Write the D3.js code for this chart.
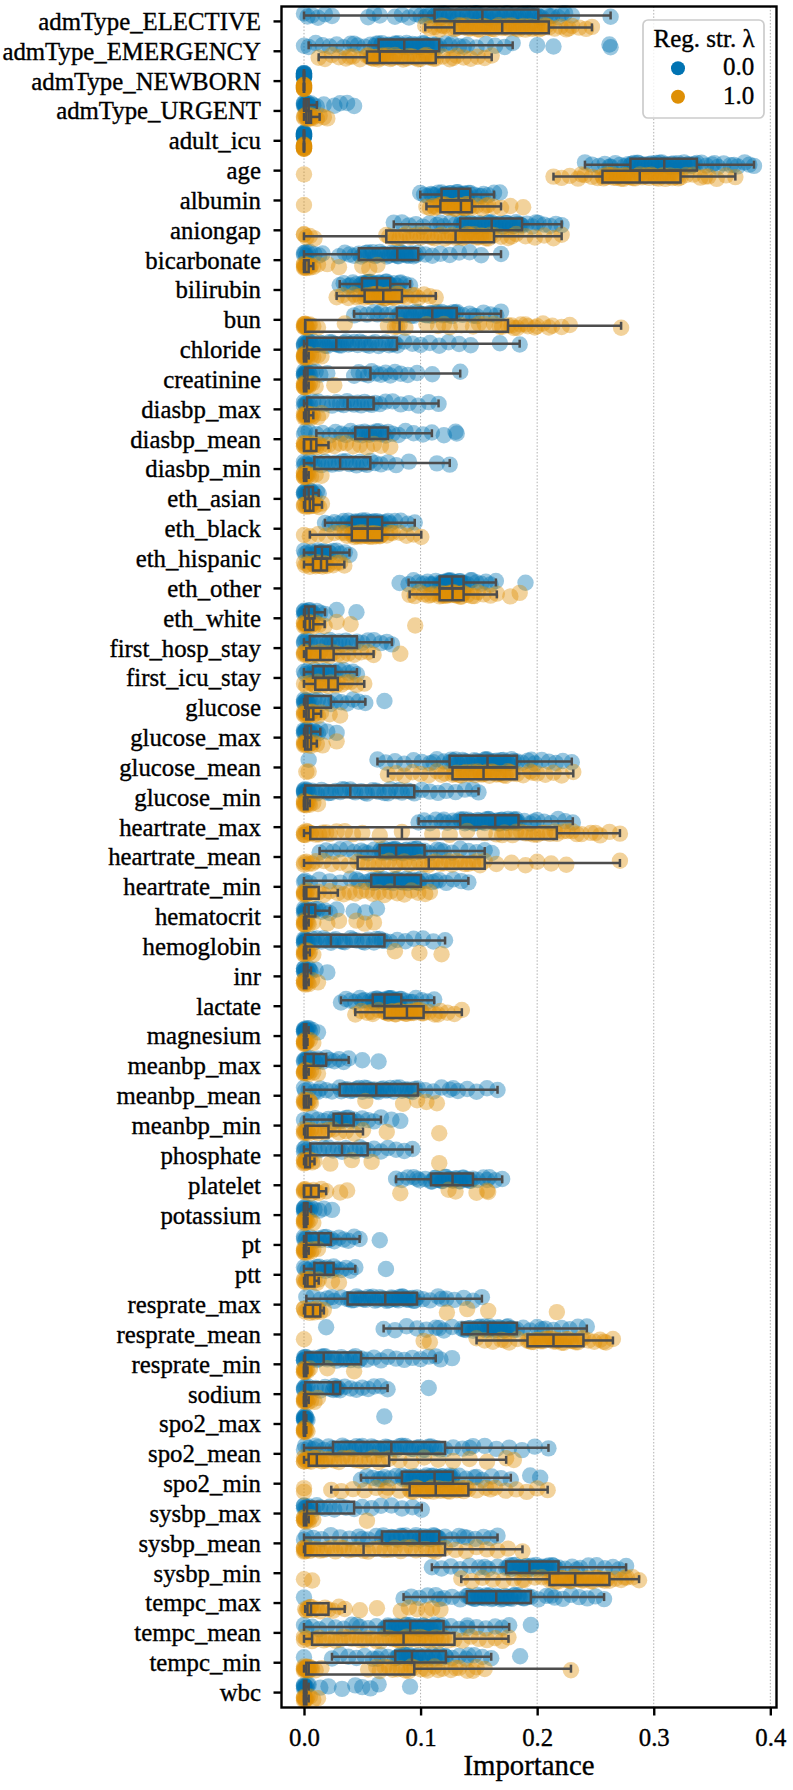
<!DOCTYPE html>
<html>
<head>
<meta charset="utf-8">
<script src="https://cdn.jsdelivr.net/npm/d3@7"></script>
<style>
  body { margin: 0; background: #fff; }
  svg { display: block; }
  text { font-family: "Liberation Serif", "Times New Roman", serif; }
</style>
</head>
<body>
<svg id="chart" width="793" height="1790"></svg>
<script>
const FEATURES = ["admType_ELECTIVE", "admType_EMERGENCY", "admType_NEWBORN", "admType_URGENT", "adult_icu", "age",
  "albumin", "aniongap", "bicarbonate", "bilirubin", "bun", "chloride", "creatinine", "diasbp_max", "diasbp_mean",
  "diasbp_min", "eth_asian", "eth_black", "eth_hispanic", "eth_other", "eth_white", "first_hosp_stay", "first_icu_stay",
  "glucose", "glucose_max", "glucose_mean", "glucose_min", "heartrate_max", "heartrate_mean", "heartrate_min",
  "hematocrit", "hemoglobin", "inr", "lactate", "magnesium", "meanbp_max", "meanbp_mean", "meanbp_min", "phosphate",
  "platelet", "potassium", "pt", "ptt", "resprate_max", "resprate_mean", "resprate_min", "sodium", "spo2_max",
  "spo2_mean", "spo2_min", "sysbp_max", "sysbp_mean", "sysbp_min", "tempc_max", "tempc_mean", "tempc_min", "wbc"]

const HUES = ["0.0", "1.0"]
const X_TICKS = [0, 0.1, 0.2, 0.3, 0.4]

// box summaries: [whisker low, q1, median, q3, whisker high]
const BOX_0 = [
  [0.0, 0.112, 0.153, 0.201, 0.263], [0.004, 0.064, 0.086, 0.116, 0.179], [0, 0, 0, 0, 0], [0, 0, 0.002, 0.004, 0.011],
  [0, 0, 0, 0, 0], [0.241, 0.28, 0.309, 0.337, 0.386], [0.0997, 0.118, 0.1326, 0.1426, 0.163], [0.077, 0.134, 0.161, 0.187, 0.221],
  [0, 0.047, 0.08, 0.098, 0.169], [0.0306, 0.0497, 0.0626, 0.074, 0.091], [0.043, 0.0797, 0.11, 0.131, 0.169], [0, 0.0026, 0.0277, 0.0797, 0.185],
  [0, 0.001, 0.003, 0.057, 0.134], [0, 0.0026, 0.0374, 0.0597, 0.1154], [0.0106, 0.044, 0.056, 0.072, 0.1097], [0, 0.0089, 0.031, 0.0569, 0.125],
  [0, 0.001, 0.004, 0.0077, 0.0126], [0.018, 0.041, 0.0546, 0.067, 0.095], [0, 0.0097, 0.0154, 0.0226, 0.039], [0.0897, 0.1163, 0.127, 0.1369, 0.1646],
  [0, 0.001, 0.004, 0.009, 0.018], [0, 0.005, 0.024, 0.0454, 0.0754], [0, 0.0077, 0.0169, 0.0269, 0.0454], [0, 0.001, 0.003, 0.0231, 0.0526],
  [0, 0.001, 0.003, 0.006, 0.014], [0.063, 0.1249, 0.1574, 0.1826, 0.2297], [0, 0.001, 0.0397, 0.0946, 0.1497], [0.0983, 0.134, 0.164, 0.184, 0.2306],
  [0.0134, 0.0649, 0.079, 0.1034, 0.155], [0, 0.0577, 0.0777, 0.1003, 0.141], [0, 0.001, 0.004, 0.0097, 0.022], [0, 0.001, 0.0231, 0.069, 0.121],
  [0, 0, 0.001, 0.003, 0.006], [0.0317, 0.059, 0.069, 0.0834, 0.1117], [0, 0, 0.001, 0.002, 0.004], [0, 0.001, 0.0083, 0.019, 0.0383],
  [0, 0.0306, 0.062, 0.0977, 0.166], [0, 0.0254, 0.0326, 0.0426, 0.066], [0, 0.0054, 0.0326, 0.0546, 0.093], [0.079, 0.1089, 0.1274, 0.1449, 0.17],
  [0, 0, 0.001, 0.003, 0.006], [0, 0.002, 0.0126, 0.0231, 0.0477], [0, 0.0089, 0.018, 0.0254, 0.044], [0.002, 0.0374, 0.0697, 0.0969, 0.1526],
  [0.0683, 0.1354, 0.1577, 0.1826, 0.2426], [0, 0.001, 0.0169, 0.0489, 0.113], [0, 0.001, 0.025, 0.031, 0.0717], [0, 0, 0, 0.001, 0.002],
  [0, 0.0249, 0.0749, 0.121, 0.2097], [0.0489, 0.084, 0.112, 0.1277, 0.1774], [0, 0.0026, 0.011, 0.043, 0.101], [0, 0.0669, 0.0991, 0.116, 0.166],
  [0.1097, 0.1734, 0.1934, 0.2183, 0.2763], [0.0854, 0.1397, 0.1649, 0.1946, 0.2574], [0, 0.069, 0.0911, 0.1197, 0.176], [0.024, 0.0783, 0.0926, 0.1217, 0.1606],
  [0, 0, 0.001, 0.002, 0.004]
]

const BOX_1 = [
  [0.104, 0.129, 0.17, 0.21, 0.247], [0.0126, 0.054, 0.065, 0.113, 0.161], [0, 0, 0, 0, 0], [0, 0.002, 0.004, 0.006, 0.0134],
  [0, 0, 0, 0, 0], [0.214, 0.256, 0.288, 0.323, 0.37], [0.105, 0.117, 0.1346, 0.144, 0.169], [0, 0.0706, 0.13, 0.163, 0.221],
  [0, 0, 0.001, 0.004, 0.008], [0.028, 0.052, 0.068, 0.084, 0.113], [0.001, 0.001, 0.082, 0.175, 0.272], [0, 0, 0.001, 0.002, 0.004],
  [0, 0, 0.001, 0.002, 0.004], [0, 0.001, 0.002, 0.004, 0.008], [0, 0, 0.006, 0.0106, 0.021], [0, 0, 0.001, 0.002, 0.004],
  [0, 0.001, 0.005, 0.008, 0.0154], [0.005, 0.041, 0.0546, 0.067, 0.1006], [0, 0.0077, 0.0146, 0.0197, 0.0346], [0.0906, 0.1163, 0.1274, 0.1369, 0.1654],
  [0, 0.001, 0.005, 0.008, 0.0177], [0, 0.002, 0.014, 0.0254, 0.0597], [0, 0.0097, 0.021, 0.029, 0.0517], [0, 0.002, 0.004, 0.008, 0.0146],
  [0, 0.001, 0.003, 0.006, 0.011], [0.072, 0.1274, 0.154, 0.1826, 0.231], [0, 0, 0.001, 0.003, 0.005], [0, 0.0054, 0.084, 0.2169, 0.271],
  [0, 0.046, 0.107, 0.155, 0.271], [0, 0, 0.002, 0.0126, 0.029], [0, 0, 0.001, 0.002, 0.004], [0, 0, 0.001, 0.002, 0.005],
  [0, 0, 0.001, 0.002, 0.004], [0.044, 0.069, 0.0883, 0.1026, 0.1354], [0, 0, 0.001, 0.002, 0.003], [0, 0, 0.001, 0.002, 0.004],
  [0, 0, 0.002, 0.004, 0.006], [0, 0.001, 0.003, 0.021, 0.0506], [0, 0.001, 0.002, 0.005, 0.009], [0, 0, 0.006, 0.0126, 0.019],
  [0, 0, 0.001, 0.002, 0.003], [0, 0, 0.001, 0.002, 0.004], [0, 0.001, 0.003, 0.009, 0.0126], [0, 0.001, 0.0077, 0.014, 0.017],
  [0.148, 0.1917, 0.214, 0.2397, 0.265], [0, 0, 0.001, 0.002, 0.003], [0, 0, 0.001, 0.002, 0.004], [0, 0, 0, 0.001, 0.002],
  [0, 0.004, 0.011, 0.073, 0.1734], [0.0234, 0.0906, 0.113, 0.141, 0.209], [0, 0, 0.001, 0.002, 0.004], [0, 0.001, 0.0511, 0.121, 0.1874],
  [0.1349, 0.2106, 0.2326, 0.262, 0.2874], [0.001, 0.003, 0.006, 0.021, 0.0349], [0, 0.0069, 0.0854, 0.1291, 0.1754], [0, 0.002, 0.004, 0.0946, 0.229],
  [0, 0, 0.001, 0.002, 0.004]
]

// individual runs, reg. strength 0.0
const POINTS_0 = [
  [0, 0.003, 0.007, 0.012, 0.018, 0.024, 0.055, 0.06, 0.065, 0.078, 0.084, 0.09, 0.096, 0.1, 0.104, 0.108, 0.112, 0.116, 0.12, 0.124, 0.128, 0.132, 0.136, 0.14, 0.144, 0.148, 0.152, 0.156, 0.16, 0.164, 0.168, 0.172, 0.176, 0.18, 0.184, 0.188, 0.192, 0.196, 0.2, 0.204, 0.208, 0.213, 0.218, 0.224, 0.23, 0.263,
   0.113, 0.117, 0.121, 0.125, 0.13, 0.134, 0.139, 0.143, 0.147, 0.151, 0.154, 0.158, 0.162, 0.166, 0.17, 0.174, 0.178, 0.182, 0.186, 0.19, 0.194, 0.198, 0.202, 0.106, 0.211, 0.221],
  [0, 0.004, 0.01, 0.016, 0.022, 0.028, 0.034, 0.04, 0.046, 0.052, 0.057, 0.061, 0.064, 0.067, 0.07, 0.073, 0.076, 0.079, 0.082, 0.085, 0.088, 0.091, 0.094, 0.097, 0.1, 0.103, 0.106, 0.11, 0.113, 0.116, 0.121, 0.127, 0.133, 0.14, 0.148, 0.156, 0.164, 0.172, 0.179, 0.2, 0.214, 0.262, 0.263,
   0.062, 0.066, 0.069, 0.072, 0.075, 0.078, 0.081, 0.084, 0.087, 0.09, 0.093, 0.096, 0.099, 0.102, 0.105, 0.108, 0.111, 0.114, 0.043, 0.125, 0.137],
  [0, 0, 0, 0, 0, 0, 0, 0, 0, 0, 0, 0, 0, 0, 0, 0],
  [0, 0, 0, 0, 0.001, 0.001, 0.001, 0.002, 0.002, 0.002, 0.003, 0.003, 0.004, 0.004, 0.005, 0.006, 0.008, 0.011, 0.017, 0.026, 0.031, 0.037, 0.043],
  [0, 0, 0, 0, 0, 0, 0, 0, 0, 0, 0, 0, 0, 0, 0, 0],
  [0.241, 0.247, 0.253, 0.258, 0.263, 0.267, 0.271, 0.275, 0.278, 0.28, 0.283, 0.286, 0.289, 0.292, 0.295, 0.298, 0.301, 0.304, 0.307, 0.309, 0.312, 0.315, 0.318, 0.321, 0.324, 0.327, 0.33, 0.333, 0.337, 0.341, 0.345, 0.35, 0.355, 0.36, 0.366, 0.372, 0.378, 0.382, 0.386,
   0.281, 0.284, 0.287, 0.29, 0.293, 0.296, 0.299, 0.302, 0.305, 0.308, 0.311, 0.314, 0.317, 0.32, 0.323, 0.326, 0.329, 0.332, 0.335, 0.262, 0.352, 0.369],
  [0.0997, 0.103, 0.106, 0.109, 0.112, 0.115, 0.118, 0.12, 0.122, 0.124, 0.126, 0.128, 0.13, 0.132, 0.134, 0.136, 0.138, 0.14, 0.1426, 0.146, 0.15, 0.154, 0.158, 0.163, 0.168,
   0.119, 0.121, 0.123, 0.125, 0.127, 0.129, 0.131, 0.133, 0.135, 0.137, 0.139, 0.141, 0.11, 0.152],
  [0.077, 0.084, 0.09, 0.096, 0.102, 0.108, 0.114, 0.12, 0.126, 0.13, 0.134, 0.137, 0.14, 0.143, 0.146, 0.149, 0.152, 0.155, 0.158, 0.161, 0.164, 0.167, 0.17, 0.173, 0.176, 0.179, 0.182, 0.185, 0.187, 0.191, 0.196, 0.201, 0.206, 0.211, 0.216, 0.221,
   0.135, 0.138, 0.141, 0.144, 0.147, 0.15, 0.153, 0.156, 0.159, 0.162, 0.165, 0.168, 0.171, 0.174, 0.177, 0.18, 0.183, 0.186, 0.117, 0.199],
  [0, 0, 0.002, 0.005, 0.009, 0.013, 0.016, 0.03, 0.035, 0.039, 0.043, 0.047, 0.051, 0.055, 0.059, 0.063, 0.067, 0.071, 0.075, 0.078, 0.08, 0.082, 0.085, 0.088, 0.091, 0.094, 0.098, 0.104, 0.11, 0.117, 0.125, 0.133, 0.142, 0.152, 0.169,
   0.049, 0.053, 0.057, 0.061, 0.065, 0.069, 0.073, 0.077, 0.081, 0.084, 0.087, 0.09, 0.093, 0.096, 0.001, 0.003],
  [0.0306, 0.034, 0.038, 0.042, 0.045, 0.048, 0.05, 0.052, 0.054, 0.056, 0.058, 0.06, 0.062, 0.064, 0.066, 0.068, 0.07, 0.072, 0.074, 0.077, 0.08, 0.083, 0.087, 0.091,
   0.051, 0.053, 0.055, 0.057, 0.059, 0.061, 0.063, 0.065, 0.067, 0.069, 0.071, 0.073, 0.04, 0.082],
  [0.043, 0.048, 0.054, 0.06, 0.066, 0.071, 0.076, 0.08, 0.084, 0.088, 0.092, 0.096, 0.1, 0.104, 0.108, 0.11, 0.113, 0.116, 0.119, 0.122, 0.125, 0.128, 0.131, 0.136, 0.142, 0.148, 0.154, 0.16, 0.165, 0.169,
   0.082, 0.086, 0.09, 0.094, 0.098, 0.102, 0.106, 0.109, 0.112, 0.115, 0.118, 0.121, 0.124, 0.127, 0.13, 0.063, 0.145],
  [0, 0, 0, 0.001, 0.002, 0.003, 0.004, 0.006, 0.01, 0.014, 0.018, 0.022, 0.026, 0.03, 0.034, 0.038, 0.043, 0.048, 0.053, 0.058, 0.064, 0.07, 0.076, 0.08, 0.086, 0.093, 0.1, 0.108, 0.116, 0.124, 0.133, 0.143, 0.168, 0.185,
   0.005, 0.008, 0.012, 0.016, 0.02, 0.024, 0.028, 0.032, 0.036, 0.041, 0.046, 0.051, 0.056, 0.061, 0.067, 0.073, 0.078],
  [0, 0, 0, 0, 0.001, 0.001, 0.002, 0.002, 0.003, 0.004, 0.005, 0.007, 0.01, 0.014, 0.02, 0.043, 0.047, 0.051, 0.055, 0.058, 0.062, 0.066, 0.07, 0.074, 0.078, 0.083, 0.089, 0.097, 0.11, 0.134],
  [0, 0, 0.001, 0.002, 0.003, 0.005, 0.008, 0.012, 0.016, 0.02, 0.024, 0.028, 0.031, 0.034, 0.037, 0.04, 0.043, 0.046, 0.049, 0.052, 0.055, 0.058, 0.061, 0.065, 0.07, 0.076, 0.083, 0.09, 0.098, 0.107, 0.1154],
  [0, 0.001, 0.004, 0.0106, 0.016, 0.022, 0.027, 0.032, 0.036, 0.04, 0.044, 0.046, 0.048, 0.05, 0.052, 0.054, 0.056, 0.058, 0.06, 0.062, 0.064, 0.066, 0.068, 0.07, 0.072, 0.076, 0.081, 0.087, 0.094, 0.102, 0.1097, 0.12, 0.13, 0.131],
  [0, 0, 0.001, 0.003, 0.005, 0.007, 0.0089, 0.012, 0.015, 0.018, 0.021, 0.024, 0.027, 0.03, 0.033, 0.036, 0.039, 0.042, 0.045, 0.048, 0.051, 0.054, 0.057, 0.061, 0.066, 0.072, 0.079, 0.09, 0.114, 0.125],
  [0, 0, 0, 0.001, 0.001, 0.002, 0.003, 0.004, 0.004, 0.005, 0.006, 0.007, 0.0077, 0.009, 0.011, 0.0126],
  [0.018, 0.022, 0.026, 0.03, 0.034, 0.038, 0.041, 0.043, 0.045, 0.047, 0.049, 0.051, 0.053, 0.055, 0.057, 0.059, 0.061, 0.063, 0.065, 0.067, 0.07, 0.074, 0.078, 0.083, 0.089, 0.095,
   0.042, 0.044, 0.046, 0.048, 0.05, 0.052, 0.054, 0.056, 0.058, 0.06, 0.062, 0.064, 0.066, 0.036, 0.072],
  [0, 0.001, 0.003, 0.005, 0.007, 0.0097, 0.011, 0.012, 0.013, 0.014, 0.015, 0.016, 0.017, 0.018, 0.019, 0.021, 0.0226, 0.025, 0.028, 0.031, 0.035, 0.039],
  [0.082, 0.0897, 0.094, 0.098, 0.102, 0.106, 0.11, 0.113, 0.1163, 0.118, 0.12, 0.122, 0.124, 0.126, 0.128, 0.13, 0.132, 0.134, 0.1369, 0.14, 0.144, 0.148, 0.152, 0.156, 0.16, 0.1646, 0.19,
   0.117, 0.119, 0.121, 0.123, 0.125, 0.127, 0.129, 0.131, 0.133, 0.135, 0.108, 0.143],
  [0, 0, 0, 0.001, 0.001, 0.002, 0.003, 0.004, 0.005, 0.006, 0.007, 0.009, 0.011, 0.014, 0.018, 0.028, 0.045],
  [0, 0, 0.001, 0.003, 0.005, 0.008, 0.011, 0.014, 0.017, 0.02, 0.022, 0.024, 0.027, 0.03, 0.033, 0.036, 0.039, 0.042, 0.0454, 0.05, 0.055, 0.06, 0.066, 0.071, 0.0754],
  [0, 0.001, 0.003, 0.005, 0.0077, 0.009, 0.011, 0.013, 0.015, 0.0169, 0.019, 0.021, 0.023, 0.025, 0.0269, 0.03, 0.034, 0.038, 0.042, 0.0454],
  [0, 0, 0, 0.001, 0.001, 0.002, 0.003, 0.003, 0.004, 0.006, 0.009, 0.012, 0.016, 0.02, 0.0231, 0.027, 0.032, 0.037, 0.042, 0.047, 0.0526, 0.069],
  [0, 0, 0, 0.001, 0.001, 0.002, 0.003, 0.004, 0.005, 0.006, 0.008, 0.01, 0.012, 0.014, 0.02, 0.028],
  [0.004, 0.063, 0.07, 0.078, 0.086, 0.094, 0.101, 0.108, 0.114, 0.12, 0.1249, 0.128, 0.132, 0.136, 0.14, 0.144, 0.148, 0.152, 0.155, 0.1574, 0.16, 0.163, 0.166, 0.169, 0.172, 0.175, 0.178, 0.1826, 0.187, 0.192, 0.198, 0.204, 0.21, 0.216, 0.222, 0.2297,
   0.126, 0.13, 0.134, 0.138, 0.142, 0.146, 0.15, 0.153, 0.156, 0.159, 0.162, 0.165, 0.168, 0.171, 0.174, 0.177, 0.18, 0.111, 0.195],
  [0, 0, 0, 0.001, 0.002, 0.004, 0.007, 0.011, 0.015, 0.019, 0.023, 0.027, 0.031, 0.035, 0.0397, 0.044, 0.049, 0.054, 0.059, 0.064, 0.069, 0.074, 0.079, 0.084, 0.089, 0.0946, 0.101, 0.108, 0.115, 0.122, 0.13, 0.138, 0.145, 0.1497,
   0, 0.001, 0.003, 0.009, 0.021, 0.033, 0.042, 0.052, 0.062, 0.072, 0.082, 0.092],
  [0.0983, 0.103, 0.108, 0.113, 0.118, 0.123, 0.128, 0.131, 0.134, 0.137, 0.14, 0.143, 0.146, 0.149, 0.152, 0.155, 0.158, 0.161, 0.164, 0.166, 0.168, 0.17, 0.172, 0.174, 0.176, 0.178, 0.18, 0.182, 0.184, 0.189, 0.194, 0.2, 0.206, 0.212, 0.218, 0.224, 0.2306,
   0.135, 0.138, 0.141, 0.144, 0.147, 0.15, 0.153, 0.156, 0.159, 0.162, 0.165, 0.167, 0.169, 0.171, 0.173, 0.175, 0.177, 0.179, 0.181, 0.183, 0.12, 0.197],
  [0.0134, 0.019, 0.025, 0.031, 0.037, 0.043, 0.049, 0.055, 0.06, 0.0649, 0.067, 0.069, 0.071, 0.073, 0.075, 0.077, 0.079, 0.081, 0.084, 0.087, 0.09, 0.093, 0.096, 0.099, 0.1034, 0.108, 0.114, 0.12, 0.127, 0.134, 0.141, 0.148, 0.155, 0.161,
   0.066, 0.068, 0.07, 0.072, 0.074, 0.076, 0.078, 0.08, 0.082, 0.085, 0.088, 0.091, 0.094, 0.097, 0.1, 0.052, 0.117],
  [0, 0.001, 0.005, 0.013, 0.022, 0.031, 0.04, 0.047, 0.053, 0.0577, 0.06, 0.063, 0.066, 0.069, 0.072, 0.075, 0.0777, 0.08, 0.083, 0.086, 0.089, 0.092, 0.095, 0.098, 0.1003, 0.105, 0.11, 0.116, 0.122, 0.128, 0.135, 0.141,
   0.059, 0.062, 0.065, 0.068, 0.071, 0.074, 0.076, 0.079, 0.082, 0.085, 0.088, 0.091, 0.094, 0.097, 0.099, 0.045, 0.113],
  [0, 0, 0, 0.001, 0.001, 0.002, 0.003, 0.004, 0.005, 0.006, 0.008, 0.0097, 0.012, 0.015, 0.018, 0.022, 0.028, 0.0426, 0.0526, 0.0626],
  [0, 0, 0, 0.001, 0.002, 0.004, 0.007, 0.011, 0.015, 0.019, 0.0231, 0.027, 0.031, 0.035, 0.04, 0.045, 0.05, 0.055, 0.06, 0.065, 0.069, 0.074, 0.08, 0.087, 0.094, 0.102, 0.111, 0.121,
   0, 0.001, 0.003, 0.009, 0.017, 0.025, 0.033, 0.042, 0.052, 0.062, 0.067],
  [0, 0, 0, 0, 0.001, 0.001, 0.002, 0.002, 0.003, 0.004, 0.005, 0.006, 0.01, 0.02],
  [0.0317, 0.036, 0.04, 0.044, 0.048, 0.052, 0.056, 0.059, 0.061, 0.063, 0.065, 0.067, 0.069, 0.071, 0.073, 0.075, 0.077, 0.079, 0.081, 0.0834, 0.087, 0.091, 0.096, 0.101, 0.106, 0.1117,
   0.06, 0.062, 0.064, 0.066, 0.068, 0.07, 0.072, 0.074, 0.076, 0.078, 0.08, 0.082, 0.05, 0.093],
  [0, 0, 0, 0, 0.001, 0.001, 0.001, 0.002, 0.002, 0.003, 0.004, 0.005, 0.007, 0.012],
  [0, 0, 0.001, 0.002, 0.003, 0.005, 0.007, 0.0083, 0.01, 0.012, 0.014, 0.016, 0.019, 0.022, 0.026, 0.03, 0.034, 0.0383, 0.05, 0.064],
  [0, 0.001, 0.004, 0.009, 0.014, 0.019, 0.024, 0.0306, 0.035, 0.04, 0.045, 0.05, 0.054, 0.058, 0.062, 0.066, 0.07, 0.074, 0.079, 0.084, 0.089, 0.093, 0.0977, 0.104, 0.111, 0.118, 0.125, 0.132, 0.14, 0.148, 0.157, 0.166,
   0.032, 0.037, 0.042, 0.047, 0.052, 0.056, 0.06, 0.064, 0.068, 0.072, 0.077, 0.082, 0.087, 0.091, 0.095, 0.012, 0.128],
  [0, 0.003, 0.007, 0.012, 0.017, 0.021, 0.0254, 0.027, 0.029, 0.031, 0.0326, 0.034, 0.036, 0.038, 0.04, 0.0426, 0.046, 0.05, 0.055, 0.06, 0.066, 0.075, 0.0826],
  [0, 0, 0.001, 0.003, 0.0054, 0.009, 0.013, 0.017, 0.021, 0.025, 0.029, 0.0326, 0.036, 0.04, 0.044, 0.048, 0.051, 0.0546, 0.06, 0.066, 0.072, 0.079, 0.086, 0.093],
  [0.079, 0.084, 0.089, 0.094, 0.099, 0.104, 0.1089, 0.112, 0.115, 0.118, 0.121, 0.124, 0.1274, 0.13, 0.133, 0.136, 0.139, 0.142, 0.1449, 0.149, 0.154, 0.159, 0.164, 0.17,
   0.11, 0.113, 0.116, 0.119, 0.122, 0.125, 0.128, 0.131, 0.134, 0.137, 0.14, 0.143, 0.097, 0.157],
  [0, 0, 0, 0, 0.001, 0.001, 0.002, 0.003, 0.004, 0.005, 0.006, 0.009, 0.013, 0.017, 0.024],
  [0, 0, 0.001, 0.002, 0.004, 0.006, 0.008, 0.01, 0.0126, 0.015, 0.017, 0.019, 0.021, 0.0231, 0.026, 0.03, 0.034, 0.038, 0.043, 0.0477, 0.065],
  [0, 0.001, 0.003, 0.006, 0.0089, 0.011, 0.013, 0.015, 0.017, 0.018, 0.02, 0.022, 0.024, 0.0254, 0.028, 0.032, 0.036, 0.04, 0.044, 0.0703],
  [0.002, 0.008, 0.014, 0.02, 0.026, 0.032, 0.0374, 0.041, 0.045, 0.049, 0.053, 0.057, 0.061, 0.065, 0.0697, 0.073, 0.076, 0.079, 0.082, 0.085, 0.088, 0.091, 0.094, 0.0969, 0.102, 0.108, 0.115, 0.122, 0.129, 0.137, 0.145, 0.1526,
   0.039, 0.043, 0.047, 0.051, 0.055, 0.059, 0.063, 0.067, 0.071, 0.075, 0.078, 0.081, 0.084, 0.087, 0.09, 0.093, 0.095, 0.024, 0.118],
  [0.019, 0.0683, 0.078, 0.088, 0.097, 0.105, 0.113, 0.12, 0.127, 0.1354, 0.139, 0.143, 0.147, 0.151, 0.155, 0.1577, 0.16, 0.163, 0.166, 0.169, 0.172, 0.175, 0.178, 0.1826, 0.188, 0.194, 0.2, 0.207, 0.214, 0.221, 0.228, 0.235, 0.2426,
   0.137, 0.141, 0.145, 0.149, 0.153, 0.156, 0.159, 0.162, 0.165, 0.168, 0.171, 0.174, 0.177, 0.18, 0.116, 0.204],
  [0, 0, 0, 0.001, 0.003, 0.006, 0.009, 0.012, 0.015, 0.0169, 0.02, 0.024, 0.028, 0.032, 0.036, 0.04, 0.044, 0.0489, 0.054, 0.06, 0.066, 0.072, 0.079, 0.086, 0.093, 0.1, 0.107, 0.113, 0.117, 0.127,
   0, 0.002, 0.005, 0.011, 0.018, 0.026, 0.034, 0.042, 0.047],
  [0, 0, 0, 0.001, 0.003, 0.006, 0.01, 0.014, 0.018, 0.022, 0.025, 0.026, 0.027, 0.028, 0.029, 0.031, 0.035, 0.04, 0.045, 0.05, 0.055, 0.06, 0.066, 0.0717, 0.107],
  [0, 0, 0, 0, 0, 0.001, 0.001, 0.001, 0.002, 0.002, 0.003, 0.0689],
  [0, 0.001, 0.004, 0.008, 0.012, 0.017, 0.021, 0.0249, 0.03, 0.035, 0.04, 0.045, 0.05, 0.055, 0.06, 0.065, 0.07, 0.0749, 0.079, 0.084, 0.089, 0.094, 0.099, 0.104, 0.109, 0.114, 0.121, 0.128, 0.136, 0.145, 0.155, 0.165, 0.176, 0.187, 0.198, 0.2097,
   0.027, 0.033, 0.038, 0.043, 0.048, 0.053, 0.058, 0.063, 0.068, 0.072, 0.077, 0.082, 0.087, 0.092, 0.097, 0.102, 0.107, 0.112, 0.117, 0.01, 0.142],
  [0.0489, 0.054, 0.059, 0.064, 0.069, 0.074, 0.079, 0.084, 0.087, 0.09, 0.093, 0.096, 0.099, 0.102, 0.105, 0.108, 0.112, 0.114, 0.116, 0.118, 0.12, 0.122, 0.124, 0.126, 0.1277, 0.133, 0.139, 0.146, 0.153, 0.161, 0.169, 0.1774, 0.194, 0.2026,
   0.085, 0.088, 0.091, 0.094, 0.097, 0.1, 0.103, 0.106, 0.109, 0.111, 0.113, 0.115, 0.117, 0.119, 0.121, 0.123, 0.125, 0.127, 0.066, 0.148],
  [0, 0, 0, 0.001, 0.002, 0.0026, 0.004, 0.006, 0.008, 0.011, 0.014, 0.018, 0.022, 0.026, 0.031, 0.036, 0.043, 0.05, 0.058, 0.066, 0.075, 0.084, 0.093, 0.101],
  [0, 0.002, 0.008, 0.015, 0.023, 0.031, 0.039, 0.047, 0.055, 0.062, 0.0669, 0.071, 0.075, 0.079, 0.083, 0.087, 0.091, 0.095, 0.0991, 0.102, 0.105, 0.108, 0.111, 0.114, 0.116, 0.121, 0.127, 0.133, 0.14, 0.147, 0.154, 0.16, 0.166,
   0.068, 0.072, 0.076, 0.08, 0.084, 0.088, 0.092, 0.096, 0.1, 0.103, 0.106, 0.109, 0.112, 0.115, 0.05, 0.137],
  [0.1097, 0.118, 0.126, 0.134, 0.142, 0.15, 0.158, 0.166, 0.1734, 0.176, 0.179, 0.182, 0.185, 0.188, 0.191, 0.1934, 0.196, 0.199, 0.202, 0.205, 0.208, 0.211, 0.214, 0.2183, 0.224, 0.23, 0.237, 0.244, 0.251, 0.258, 0.265, 0.27, 0.2763,
   0.175, 0.178, 0.181, 0.184, 0.187, 0.19, 0.192, 0.195, 0.198, 0.201, 0.204, 0.207, 0.21, 0.213, 0.216, 0.155, 0.234],
  [0, 0.0854, 0.092, 0.099, 0.106, 0.113, 0.12, 0.127, 0.134, 0.1397, 0.143, 0.146, 0.149, 0.152, 0.155, 0.158, 0.161, 0.1649, 0.168, 0.171, 0.174, 0.177, 0.18, 0.184, 0.188, 0.1946, 0.201, 0.208, 0.215, 0.222, 0.229, 0.236, 0.243, 0.25, 0.2574,
   0.141, 0.144, 0.147, 0.15, 0.153, 0.156, 0.159, 0.162, 0.166, 0.169, 0.172, 0.175, 0.178, 0.181, 0.185, 0.189, 0.192, 0.116, 0.212],
  [0, 0.002, 0.007, 0.013, 0.02, 0.027, 0.034, 0.041, 0.048, 0.055, 0.062, 0.069, 0.072, 0.075, 0.078, 0.081, 0.084, 0.087, 0.0911, 0.094, 0.097, 0.1, 0.103, 0.106, 0.109, 0.112, 0.116, 0.1197, 0.126, 0.133, 0.14, 0.148, 0.156, 0.164, 0.17, 0.176, 0.1946,
   0.07, 0.073, 0.076, 0.079, 0.082, 0.085, 0.088, 0.09, 0.093, 0.096, 0.099, 0.102, 0.105, 0.108, 0.111, 0.114, 0.118, 0.045, 0.14],
  [0, 0.024, 0.031, 0.038, 0.045, 0.052, 0.059, 0.066, 0.072, 0.0783, 0.081, 0.084, 0.087, 0.09, 0.0926, 0.096, 0.1, 0.104, 0.108, 0.112, 0.116, 0.1217, 0.127, 0.133, 0.139, 0.146, 0.153, 0.1606, 0.1854,
   0.08, 0.083, 0.086, 0.089, 0.092, 0.095, 0.098, 0.102, 0.106, 0.11, 0.114, 0.118, 0.121, 0.063, 0.141],
  [0, 0, 0, 0, 0.001, 0.001, 0.002, 0.003, 0.004, 0.014, 0.021, 0.0326, 0.044, 0.05, 0.057, 0.064, 0.091]
]

// individual runs, reg. strength 1.0
const POINTS_1 = [
  [0.104, 0.108, 0.112, 0.116, 0.12, 0.124, 0.129, 0.133, 0.137, 0.141, 0.145, 0.149, 0.153, 0.157, 0.161, 0.165, 0.17, 0.174, 0.178, 0.182, 0.186, 0.19, 0.194, 0.198, 0.202, 0.206, 0.21, 0.215, 0.22, 0.225, 0.23, 0.236, 0.242, 0.247,
   0.131, 0.135, 0.139, 0.143, 0.147, 0.151, 0.155, 0.159, 0.163, 0.167, 0.172, 0.176, 0.18, 0.184, 0.188, 0.192, 0.196, 0.2, 0.204, 0.208, 0.118, 0.227],
  [0.0126, 0.018, 0.024, 0.03, 0.036, 0.042, 0.048, 0.054, 0.057, 0.06, 0.063, 0.065, 0.068, 0.072, 0.076, 0.08, 0.085, 0.09, 0.095, 0.1, 0.105, 0.109, 0.113, 0.119, 0.125, 0.131, 0.137, 0.143, 0.149, 0.155, 0.161,
   0.055, 0.058, 0.061, 0.064, 0.067, 0.07, 0.074, 0.078, 0.083, 0.088, 0.093, 0.098, 0.103, 0.107, 0.111, 0.039, 0.128],
  [0, 0, 0, 0, 0, 0, 0, 0, 0, 0, 0, 0, 0, 0, 0, 0],
  [0, 0, 0.001, 0.002, 0.002, 0.003, 0.003, 0.004, 0.004, 0.005, 0.005, 0.006, 0.007, 0.009, 0.011, 0.0134, 0.017, 0.02],
  [0, 0, 0, 0, 0, 0, 0, 0, 0, 0, 0, 0, 0, 0, 0, 0],
  [0, 0.214, 0.221, 0.228, 0.235, 0.241, 0.247, 0.252, 0.256, 0.259, 0.262, 0.265, 0.268, 0.271, 0.274, 0.277, 0.28, 0.284, 0.288, 0.292, 0.296, 0.3, 0.304, 0.308, 0.312, 0.316, 0.32, 0.323, 0.328, 0.334, 0.34, 0.347, 0.354, 0.362, 0.37,
   0.257, 0.26, 0.263, 0.266, 0.269, 0.272, 0.275, 0.278, 0.282, 0.286, 0.29, 0.294, 0.298, 0.302, 0.306, 0.31, 0.314, 0.318, 0.321, 0.238, 0.344],
  [0, 0.105, 0.108, 0.111, 0.114, 0.117, 0.12, 0.123, 0.126, 0.129, 0.132, 0.1346, 0.137, 0.139, 0.141, 0.144, 0.148, 0.153, 0.158, 0.163, 0.169, 0.177, 0.188,
   0.118, 0.121, 0.124, 0.127, 0.13, 0.133, 0.136, 0.138, 0.14, 0.142, 0.112, 0.156],
  [0, 0, 0.002, 0.005, 0.009, 0.0706, 0.076, 0.082, 0.088, 0.094, 0.1, 0.106, 0.112, 0.118, 0.124, 0.13, 0.134, 0.138, 0.142, 0.146, 0.15, 0.154, 0.158, 0.163, 0.169, 0.175, 0.182, 0.19, 0.198, 0.206, 0.214, 0.221,
   0.073, 0.079, 0.085, 0.091, 0.097, 0.103, 0.109, 0.115, 0.121, 0.127, 0.132, 0.136, 0.14, 0.144, 0.148, 0.152, 0.156, 0.16, 0.178],
  [0, 0, 0, 0, 0.001, 0.001, 0.002, 0.002, 0.003, 0.004, 0.005, 0.006, 0.008, 0.012, 0.02, 0.03, 0.05, 0.056, 0.063],
  [0.028, 0.033, 0.038, 0.043, 0.048, 0.052, 0.055, 0.058, 0.061, 0.064, 0.066, 0.068, 0.07, 0.072, 0.075, 0.078, 0.081, 0.084, 0.088, 0.093, 0.098, 0.103, 0.108, 0.113,
   0.053, 0.056, 0.059, 0.062, 0.065, 0.067, 0.069, 0.071, 0.073, 0.076, 0.079, 0.082, 0.045, 0.095],
  [0, 0, 0, 0.001, 0.001, 0.001, 0.002, 0.003, 0.005, 0.008, 0.012, 0.035, 0.072, 0.078, 0.082, 0.087, 0.105, 0.115, 0.125, 0.135, 0.145, 0.155, 0.163, 0.17, 0.175, 0.18, 0.186, 0.192, 0.198, 0.205, 0.213, 0.221, 0.228, 0.272,
   0, 0.001, 0.002, 0.004, 0.08, 0.12, 0.15, 0.168, 0.178, 0.183, 0.19, 0.2, 0.21],
  [0, 0, 0, 0, 0, 0.001, 0.001, 0.001, 0.002, 0.002, 0.003, 0.004, 0.006, 0.008, 0.012, 0.015],
  [0, 0, 0, 0, 0, 0.001, 0.001, 0.002, 0.002, 0.003, 0.004, 0.005, 0.007, 0.01, 0.026],
  [0, 0, 0, 0.001, 0.001, 0.002, 0.002, 0.003, 0.004, 0.005, 0.006, 0.007, 0.008, 0.012, 0.015],
  [0, 0, 0, 0, 0.001, 0.002, 0.003, 0.004, 0.005, 0.006, 0.007, 0.008, 0.009, 0.0106, 0.012, 0.014, 0.017, 0.021, 0.026, 0.031, 0.036, 0.042, 0.048, 0.054, 0.06, 0.066, 0.074],
  [0, 0, 0, 0, 0, 0.001, 0.001, 0.002, 0.002, 0.003, 0.004, 0.006, 0.01, 0.015],
  [0, 0, 0.001, 0.002, 0.003, 0.004, 0.005, 0.005, 0.006, 0.007, 0.008, 0.009, 0.011, 0.013, 0.0154],
  [0, 0.005, 0.012, 0.019, 0.026, 0.032, 0.037, 0.041, 0.043, 0.045, 0.047, 0.049, 0.051, 0.053, 0.055, 0.057, 0.059, 0.061, 0.063, 0.065, 0.067, 0.071, 0.076, 0.082, 0.088, 0.094, 0.1006,
   0.042, 0.044, 0.046, 0.048, 0.05, 0.052, 0.054, 0.056, 0.058, 0.06, 0.062, 0.064, 0.066, 0.035, 0.074],
  [0, 0.001, 0.003, 0.005, 0.0077, 0.009, 0.01, 0.011, 0.012, 0.013, 0.0146, 0.016, 0.017, 0.018, 0.0197, 0.022, 0.025, 0.028, 0.031, 0.0346],
  [0.0906, 0.095, 0.099, 0.103, 0.107, 0.111, 0.1163, 0.118, 0.12, 0.122, 0.124, 0.126, 0.1274, 0.129, 0.131, 0.133, 0.135, 0.1369, 0.14, 0.144, 0.149, 0.154, 0.16, 0.1654, 0.177, 0.185,
   0.117, 0.119, 0.121, 0.123, 0.125, 0.128, 0.13, 0.132, 0.134, 0.136, 0.109, 0.146],
  [0, 0, 0, 0.001, 0.001, 0.002, 0.003, 0.004, 0.005, 0.006, 0.007, 0.008, 0.01, 0.013, 0.0177, 0.028, 0.04, 0.0954],
  [0, 0, 0, 0.001, 0.002, 0.004, 0.006, 0.008, 0.01, 0.012, 0.014, 0.016, 0.018, 0.02, 0.022, 0.0254, 0.029, 0.033, 0.038, 0.043, 0.049, 0.055, 0.0597, 0.0826],
  [0, 0.002, 0.005, 0.008, 0.0097, 0.012, 0.014, 0.016, 0.018, 0.021, 0.023, 0.025, 0.027, 0.029, 0.032, 0.036, 0.04, 0.045, 0.0517],
  [0, 0, 0, 0.001, 0.002, 0.002, 0.003, 0.004, 0.004, 0.005, 0.006, 0.007, 0.008, 0.01, 0.012, 0.0146, 0.022, 0.031],
  [0, 0, 0, 0.001, 0.001, 0.002, 0.003, 0.004, 0.005, 0.006, 0.008, 0.011, 0.016, 0.028],
  [0.002, 0.004, 0.072, 0.079, 0.086, 0.093, 0.1, 0.107, 0.114, 0.121, 0.1274, 0.131, 0.135, 0.139, 0.143, 0.147, 0.151, 0.154, 0.157, 0.161, 0.165, 0.169, 0.173, 0.177, 0.1826, 0.188, 0.194, 0.2, 0.207, 0.214, 0.221, 0.231,
   0.129, 0.133, 0.137, 0.141, 0.145, 0.149, 0.152, 0.155, 0.159, 0.163, 0.167, 0.171, 0.175, 0.179, 0.118, 0.196],
  [0, 0, 0, 0, 0.001, 0.001, 0.002, 0.002, 0.003, 0.004, 0.005, 0.008, 0.012],
  [0, 0, 0.001, 0.003, 0.0054, 0.01, 0.016, 0.022, 0.028, 0.035, 0.042, 0.05, 0.065, 0.084, 0.11, 0.125, 0.14, 0.155, 0.165, 0.172, 0.179, 0.186, 0.193, 0.2, 0.207, 0.2169, 0.222, 0.23, 0.238, 0.246, 0.254, 0.262, 0.271,
   0, 0.002, 0.006, 0.013, 0.019, 0.17, 0.182, 0.19, 0.197, 0.204, 0.211, 0.215, 0.226, 0.234, 0.25],
  [0, 0, 0.004, 0.01, 0.017, 0.024, 0.031, 0.038, 0.046, 0.055, 0.064, 0.073, 0.082, 0.09, 0.099, 0.107, 0.113, 0.12, 0.127, 0.134, 0.141, 0.148, 0.155, 0.165, 0.178, 0.19, 0.2, 0.212, 0.225, 0.271,
   0.05, 0.06, 0.068, 0.078, 0.086, 0.095, 0.103, 0.11, 0.117, 0.124, 0.131, 0.138, 0.145, 0.151, 0.002, 0.007],
  [0, 0, 0, 0, 0.001, 0.002, 0.003, 0.005, 0.008, 0.0126, 0.017, 0.022, 0.029, 0.034, 0.039, 0.044, 0.049, 0.054, 0.059, 0.064, 0.069, 0.074, 0.08, 0.086, 0.092, 0.098, 0.104, 0.108],
  [0, 0, 0, 0, 0.001, 0.001, 0.002, 0.003, 0.004, 0.008, 0.02, 0.03, 0.045, 0.052, 0.06],
  [0, 0, 0, 0, 0.001, 0.001, 0.002, 0.003, 0.004, 0.005, 0.008, 0.078, 0.099, 0.118],
  [0, 0, 0, 0, 0.001, 0.001, 0.002, 0.003, 0.004, 0.007, 0.012],
  [0.044, 0.049, 0.054, 0.059, 0.064, 0.069, 0.072, 0.075, 0.078, 0.081, 0.084, 0.0883, 0.091, 0.094, 0.097, 0.1, 0.1026, 0.107, 0.112, 0.117, 0.123, 0.129, 0.1354,
   0.07, 0.073, 0.076, 0.079, 0.082, 0.085, 0.087, 0.089, 0.092, 0.095, 0.098, 0.101, 0.058, 0.115],
  [0, 0, 0, 0, 0, 0.001, 0.001, 0.002, 0.002, 0.003, 0.005, 0.008],
  [0, 0, 0, 0, 0.001, 0.001, 0.002, 0.003, 0.004, 0.006, 0.008, 0.012],
  [0, 0, 0, 0.001, 0.001, 0.002, 0.003, 0.004, 0.005, 0.006, 0.0526, 0.085, 0.097, 0.105, 0.114],
  [0, 0, 0, 0.001, 0.002, 0.003, 0.004, 0.006, 0.009, 0.012, 0.015, 0.018, 0.021, 0.025, 0.03, 0.036, 0.043, 0.0506, 0.071, 0.116],
  [0, 0, 0, 0.001, 0.001, 0.002, 0.003, 0.004, 0.005, 0.007, 0.009, 0.0226, 0.041, 0.058, 0.116],
  [0, 0, 0, 0.001, 0.002, 0.004, 0.006, 0.008, 0.01, 0.0126, 0.015, 0.019, 0.031, 0.037, 0.0826, 0.124, 0.13, 0.148, 0.157, 0.158],
  [0, 0, 0, 0, 0.001, 0.001, 0.002, 0.003, 0.005, 0.008],
  [0, 0, 0, 0, 0.001, 0.001, 0.002, 0.003, 0.004, 0.006, 0.008, 0.012],
  [0, 0, 0.001, 0.002, 0.003, 0.004, 0.005, 0.007, 0.009, 0.011, 0.0126, 0.024, 0.03],
  [0, 0, 0.001, 0.003, 0.005, 0.007, 0.0077, 0.009, 0.011, 0.012, 0.014, 0.017, 0.1226, 0.14, 0.158, 0.2169],
  [0, 0.1026, 0.108, 0.148, 0.155, 0.162, 0.169, 0.176, 0.183, 0.1917, 0.195, 0.199, 0.203, 0.207, 0.211, 0.214, 0.217, 0.221, 0.225, 0.229, 0.233, 0.2397, 0.244, 0.249, 0.254, 0.259, 0.265,
   0.193, 0.197, 0.201, 0.205, 0.209, 0.213, 0.216, 0.219, 0.223, 0.227, 0.231, 0.235, 0.238, 0.172, 0.257],
  [0, 0, 0, 0, 0.001, 0.001, 0.002, 0.003, 0.005, 0.02, 0.043],
  [0, 0, 0, 0, 0.001, 0.001, 0.002, 0.003, 0.004, 0.006, 0.009, 0.012],
  [0, 0, 0, 0, 0, 0.001, 0.001, 0.002, 0.003],
  [0, 0, 0.001, 0.002, 0.004, 0.006, 0.008, 0.011, 0.015, 0.02, 0.026, 0.033, 0.04, 0.048, 0.056, 0.064, 0.073, 0.082, 0.092, 0.103, 0.115, 0.128, 0.142, 0.157, 0.1734, 0.18,
   0, 0.003, 0.005, 0.009, 0.013, 0.018, 0.023, 0.03, 0.037, 0.044, 0.052, 0.06, 0.068],
  [0, 0, 0.0234, 0.032, 0.042, 0.052, 0.062, 0.072, 0.082, 0.0906, 0.094, 0.098, 0.102, 0.106, 0.11, 0.113, 0.117, 0.121, 0.125, 0.129, 0.133, 0.137, 0.141, 0.148, 0.156, 0.164, 0.173, 0.182, 0.191, 0.2, 0.209,
   0.092, 0.096, 0.1, 0.104, 0.108, 0.111, 0.115, 0.119, 0.123, 0.127, 0.131, 0.135, 0.139, 0.07, 0.16],
  [0, 0, 0, 0, 0.001, 0.001, 0.002, 0.003, 0.004, 0.006, 0.008, 0.054],
  [0, 0, 0, 0.001, 0.003, 0.008, 0.014, 0.02, 0.027, 0.034, 0.042, 0.0511, 0.06, 0.069, 0.078, 0.087, 0.096, 0.105, 0.113, 0.121, 0.13, 0.139, 0.148, 0.157, 0.166, 0.175, 0.1874,
   0, 0.002, 0.005, 0.011, 0.017, 0.024, 0.031, 0.038, 0.046, 0.055, 0.065, 0.074, 0.083, 0.092, 0.101, 0.11, 0.117],
  [0, 0.007, 0.1349, 0.144, 0.153, 0.162, 0.171, 0.18, 0.189, 0.198, 0.204, 0.2106, 0.214, 0.218, 0.222, 0.226, 0.229, 0.2326, 0.236, 0.24, 0.244, 0.248, 0.252, 0.256, 0.262, 0.267, 0.272, 0.277, 0.282, 0.2874,
   0.212, 0.216, 0.22, 0.224, 0.228, 0.231, 0.234, 0.238, 0.242, 0.246, 0.25, 0.254, 0.258, 0.26, 0.187, 0.275],
  [0.001, 0.002, 0.003, 0.004, 0.005, 0.006, 0.008, 0.011, 0.014, 0.018, 0.021, 0.025, 0.03, 0.0349, 0.048, 0.0626, 0.083, 0.09, 0.097, 0.105, 0.11, 0.117],
  [0, 0, 0.002, 0.0069, 0.013, 0.02, 0.027, 0.034, 0.041, 0.048, 0.055, 0.062, 0.069, 0.076, 0.081, 0.0854, 0.09, 0.095, 0.1, 0.105, 0.11, 0.115, 0.12, 0.1291, 0.136, 0.143, 0.15, 0.157, 0.164, 0.17, 0.1754,
   0.01, 0.017, 0.024, 0.031, 0.038, 0.045, 0.052, 0.059, 0.066, 0.073, 0.079, 0.083, 0.088, 0.093, 0.098, 0.103, 0.108, 0.113, 0.118, 0.124],
  [0, 0, 0, 0.001, 0.002, 0.003, 0.004, 0.005, 0.007, 0.01, 0.015, 0.055, 0.062, 0.069, 0.076, 0.083, 0.09, 0.0946, 0.1, 0.106, 0.112, 0.119, 0.126, 0.133, 0.14, 0.148, 0.155, 0.229,
   0, 0.001, 0.002, 0.003, 0.004, 0.006, 0.065, 0.073, 0.08, 0.087, 0.092, 0.104, 0.115, 0.13, 0.145],
  [0, 0, 0, 0, 0.001, 0.001, 0.002, 0.003, 0.005, 0.008, 0.012]
]

const COLORS = { "0.0": "#0173b2", "1.0": "#de8f05" }
const LINE_GRAY = "#4d4d4d"
// fixed vertical jitter pattern (fraction of max offset)
const JITTER = [-0.8, 0.4, -0.1, 0.9, -0.5, 0.2, 0.7, -0.9, 0.0, 0.5, -0.3, 0.8, -0.6, 0.1, 0.6, -0.2, 0.3, -0.7]

const plot = { left: 281.5, right: 776.5, top: 6.5, bottom: 1707.5 }
const FONT = "Liberation Serif, Times New Roman, serif"

const svg = d3.select("#chart")

const x = d3.scaleLinear().domain([-0.0193, 0.4053]).range([plot.left, plot.right])
const y = d3.scaleBand().domain(FEATURES).range([plot.top, plot.bottom]).padding(0)
const hue = d3.scaleBand().domain(HUES).range([0, y.bandwidth()]).paddingInner(0).paddingOuter(0.25)

const boxH = hue.bandwidth() * 0.98
const capW = 8
const rowY = (f, h) => y(f) + hue(h) + hue.bandwidth() / 2

// grid
svg.append("g")
    .selectAll("line")
    .data(X_TICKS)
    .join("line")
    .attr("x1", d => x(d)).attr("x2", d => x(d))
    .attr("y1", plot.top).attr("y2", plot.bottom)
    .attr("stroke", "#b0b0b0")
    .attr("stroke-width", 1)
    .attr("stroke-dasharray", "1.5,1.8")

// strip points
const pointRows = []
HUES.forEach((h, hi) => {
    const src = hi === 0 ? POINTS_0 : POINTS_1
    FEATURES.forEach((f, fi) => {
        src[fi].forEach((v, i) => pointRows.push({ f, h, v, i: i + fi * 5 }))
    })
})

svg.append("g")
    .selectAll("circle")
    .data(pointRows)
    .join("circle")
    .attr("cx", d => x(d.v))
    .attr("cy", d => rowY(d.f, d.h) + JITTER[d.i % JITTER.length] * 2.5)
    .attr("r", 8.2)
    .attr("fill", d => COLORS[d.h])
    .attr("fill-opacity", 0.4)

// boxes
const boxRows = []
FEATURES.forEach((f, fi) => {
    boxRows.push({ f, h: "0.0", s: BOX_0[fi] })
    boxRows.push({ f, h: "1.0", s: BOX_1[fi] })
})

const boxG = svg.append("g")
    .attr("stroke", LINE_GRAY)
    .attr("stroke-width", 2.5)
    .attr("fill", "none")

boxRows.forEach(d => {
    const cy = rowY(d.f, d.h)
    const [lo, q1, med, q3, hi] = d.s
    const g = boxG.append("g")
    g.append("line").attr("x1", x(lo)).attr("x2", x(q1)).attr("y1", cy).attr("y2", cy)
    g.append("line").attr("x1", x(q3)).attr("x2", x(hi)).attr("y1", cy).attr("y2", cy)
    g.append("line").attr("x1", x(lo)).attr("x2", x(lo)).attr("y1", cy - capW / 2).attr("y2", cy + capW / 2)
    g.append("line").attr("x1", x(hi)).attr("x2", x(hi)).attr("y1", cy - capW / 2).attr("y2", cy + capW / 2)
    g.append("path")
        .attr("d", "M" + x(q1) + "," + (cy - boxH / 2) + "H" + x(q3) + "V" + (cy + boxH / 2) + "H" + x(q1) + "Z")
    g.append("line").attr("x1", x(med)).attr("x2", x(med)).attr("y1", cy - boxH / 2).attr("y2", cy + boxH / 2)
})

// frame
svg.append("rect")
    .attr("x", plot.left).attr("y", plot.top)
    .attr("width", plot.right - plot.left).attr("height", plot.bottom - plot.top)
    .attr("fill", "none").attr("stroke", "#000").attr("stroke-width", 2.4)

// axes
const yAxis = svg.append("g")
    .attr("transform", "translate(" + plot.left + ",0)")
    .call(d3.axisLeft(y).tickSize(8).tickPadding(12.5))
yAxis.select(".domain").remove()
yAxis.selectAll(".tick line").attr("stroke", "#000").attr("stroke-width", 2.4)
yAxis.selectAll(".tick text")
    .attr("font-family", FONT)
    .attr("font-size", 24.8).attr("fill", "#000").attr("dy", "0.34em")
    .attr("stroke", "#000").attr("stroke-width", 0.35)

const xAxis = svg.append("g")
    .attr("transform", "translate(0," + plot.bottom + ")")
    .call(d3.axisBottom(x).tickValues(X_TICKS).tickFormat(d3.format(".1f")).tickSize(8))
xAxis.select(".domain").remove()
xAxis.selectAll(".tick line").attr("stroke", "#000").attr("stroke-width", 2.4)
xAxis.selectAll(".tick text")
    .attr("font-family", FONT)
    .attr("font-size", 24.8).attr("fill", "#000")
    .attr("y", 38.5).attr("dy", 0)
    .attr("stroke", "#000").attr("stroke-width", 0.35)

svg.append("text")
    .attr("x", (plot.left + plot.right) / 2).attr("y", 1775)
    .attr("text-anchor", "middle")
    .attr("font-size", 28.8)
    .attr("stroke", "#000").attr("stroke-width", 0.35)
    .text("Importance")

// legend
const legend = svg.append("g")
legend.append("rect")
    .attr("x", 643).attr("y", 20).attr("width", 121).attr("height", 98).attr("rx", 5)
    .attr("fill", "#fff").attr("fill-opacity", 0.8)
    .attr("stroke", "#cccccc").attr("stroke-width", 1.7)
legend.append("text")
    .attr("x", 704).attr("y", 47).attr("text-anchor", "middle")
    .attr("font-size", 25).attr("stroke", "#000").attr("stroke-width", 0.35)
    .text("Reg. str. λ")
HUES.forEach((h, i) => {
    const ly = 68.3 + i * 28.4
    legend.append("circle").attr("cx", 678).attr("cy", ly).attr("r", 7).attr("fill", COLORS[h])
    legend.append("text").attr("x", 723).attr("y", ly + 7).attr("font-size", 25)
        .attr("stroke", "#000").attr("stroke-width", 0.35).text(h)
})
</script>
</body>
</html>
